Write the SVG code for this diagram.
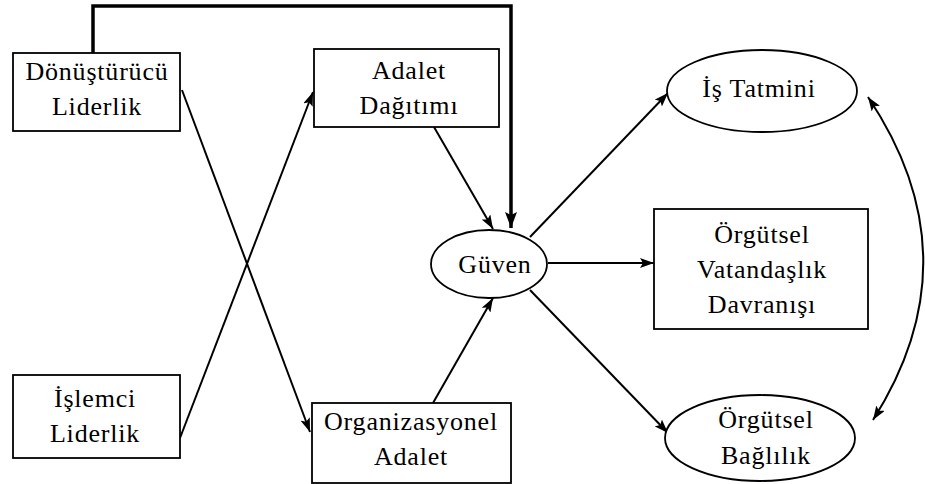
<svg xmlns="http://www.w3.org/2000/svg" width="925" height="484" viewBox="0 0 925 484">
  <defs>
    <marker id="arrow" viewBox="0 0 14 10" refX="14" refY="5" markerWidth="14" markerHeight="10" markerUnits="userSpaceOnUse" orient="auto-start-reverse">
      <path d="M0,0 L14,5 L0,10 L3,5 Z" fill="#000"/>
    </marker>
    <marker id="arrowBig" viewBox="0 0 16 12" refX="16" refY="6" markerWidth="16" markerHeight="12" markerUnits="userSpaceOnUse" orient="auto">
      <path d="M0,0 L16,6 L0,12 L3,6 Z" fill="#000"/>
    </marker>
  </defs>
  <style>
    .box { fill: #fff; stroke: #000; stroke-width: 1.8; }
    .lbl { font-family: 'Liberation Serif', 'DejaVu Serif', 'Times New Roman', serif; font-size: 26px; letter-spacing: 0.8px; fill: #000; text-anchor: middle; }
    .link { fill: none; stroke: #000; stroke-width: 2; marker-end: url(#arrow); }
  </style>
  <rect width="925" height="484" fill="#fff"/>

  <g id="connectors">
    <path d="M93,53 V6 H511 V228" fill="none" stroke="#000" stroke-width="3.5" marker-end="url(#arrowBig)"/>
    <line class="link" x1="182" y1="90" x2="310" y2="432"/>
    <line class="link" x1="180" y1="438" x2="313" y2="92"/>
    <line class="link" x1="434" y1="127" x2="493" y2="229"/>
    <line class="link" x1="433" y1="403" x2="493" y2="298"/>
    <line class="link" x1="530" y1="237" x2="668" y2="93"/>
    <line class="link" x1="548" y1="263" x2="654" y2="263"/>
    <line class="link" x1="530" y1="290" x2="668" y2="433"/>
    <path class="link" d="M868,97 Q976,258 873,420" marker-start="url(#arrow)"/>
  </g>

  <g id="donusturucu-liderlik">
    <rect class="box" x="13" y="53" width="167" height="78"/>
    <text class="lbl" x="97" y="80">Dönüştürücü</text>
    <text class="lbl" x="97" y="115">Liderlik</text>
  </g>

  <g id="islemci-liderlik">
    <rect class="box" x="13" y="375" width="167" height="83"/>
    <text class="lbl" x="95" y="407">İşlemci</text>
    <text class="lbl" x="95" y="442">Liderlik</text>
  </g>

  <g id="adalet-dagitimi">
    <rect class="box" x="314" y="49" width="185" height="78"/>
    <text class="lbl" x="409" y="79">Adalet</text>
    <text class="lbl" x="409" y="114">Dağıtımı</text>
  </g>

  <g id="organizasyonel-adalet">
    <rect class="box" x="312" y="403" width="199" height="80"/>
    <text class="lbl" x="411" y="430">Organizasyonel</text>
    <text class="lbl" x="411" y="465">Adalet</text>
  </g>

  <g id="guven">
    <ellipse class="box" cx="489" cy="264" rx="58" ry="34"/>
    <text class="lbl" x="495" y="273">Güven</text>
  </g>

  <g id="is-tatmini">
    <ellipse class="box" cx="762" cy="91" rx="95" ry="41"/>
    <text class="lbl" x="759" y="97">İş Tatmini</text>
  </g>

  <g id="orgutsel-vatandaslik">
    <rect class="box" x="654" y="209" width="214" height="120"/>
    <text class="lbl" x="762" y="243">Örgütsel</text>
    <text class="lbl" x="762" y="278">Vatandaşlık</text>
    <text class="lbl" x="762" y="313">Davranışı</text>
  </g>

  <g id="orgutsel-baglilik">
    <ellipse class="box" cx="760" cy="438" rx="95" ry="43"/>
    <text class="lbl" x="766" y="428">Örgütsel</text>
    <text class="lbl" x="766" y="464">Bağlılık</text>
  </g>
</svg>
